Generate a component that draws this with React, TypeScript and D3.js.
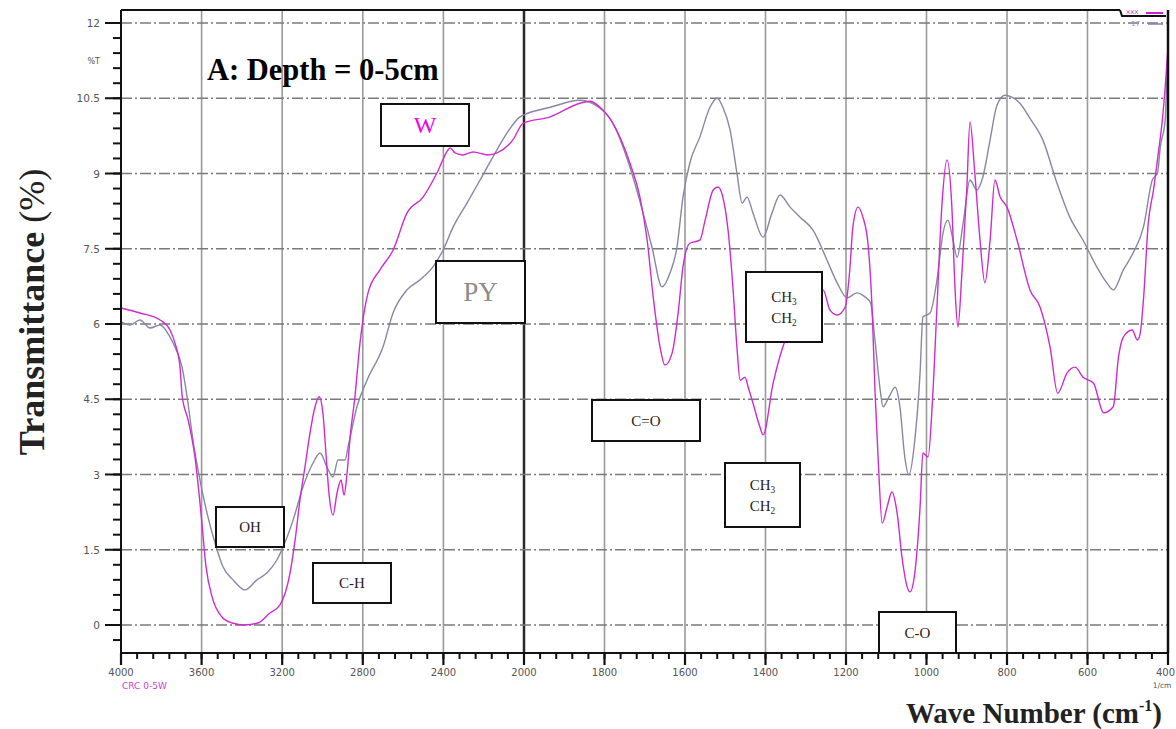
import React from "react";
import * as d3 from "d3";

// ---- Data (wavenumber cm-1, transmittance %T) ----
const wSeriesWn = [4000,3906,3806,3757,3732,3707,3697,3667,3633,3603,3578,3548,3499,3449,3385,3320,3261,3211,3161,3136,3112,3087,3062,3037,3017,2998,2983,2968,2948,2928,2908,2893,2878,2863,2839,2814,2794,2774,2715,2650,2581,2501,2432,2377,2367,2342,2303,2253,2179,2134,2055,2005,1935,1861,1836,1811,1779,1737,1712,1694,1679,1662,1650,1632,1617,1605,1588,1563,1550,1530,1518,1506,1493,1481,1471,1463,1451,1443,1431,1414,1406,1381,1357,1327,1289,1257,1240,1222,1202,1190,1183,1170,1158,1145,1135,1128,1120,1110,1098,1086,1073,1061,1048,1041,1029,1016,1009,996,986,974,962,949,937,929,922,912,900,892,880,867,855,842,830,817,800,775,743,718,693,674,651,631,611,585,560,536,523,511,489,476,469,461,449,436,424,414,407,400];
const wSeriesT = [6.32,6.22,6.08,5.88,5.62,5.14,4.58,4.09,3.35,2.23,1.16,0.56,0.16,0.04,0.0,0.04,0.24,0.40,1.04,1.69,2.49,3.15,3.83,4.35,4.55,4.23,3.43,2.63,2.19,2.63,2.89,2.59,3.03,3.75,4.55,5.62,6.22,6.62,7.08,7.47,8.21,8.53,9.01,9.47,9.51,9.41,9.37,9.43,9.37,9.41,9.67,10.0,10.13,10.40,10.44,10.32,10.0,9.21,8.53,7.67,6.54,5.54,5.18,5.42,6.22,7.14,7.61,7.67,8.07,8.67,8.73,8.53,7.87,6.74,5.54,4.88,4.94,4.74,4.42,3.95,3.79,4.82,5.54,6.08,6.48,6.68,6.28,6.18,6.34,7.14,7.93,8.33,8.13,7.57,6.28,4.68,3.29,2.03,2.35,2.65,2.23,1.36,0.76,0.66,1.04,2.35,3.43,3.35,4.35,6.34,8.33,9.27,8.33,6.68,5.94,7.02,8.67,10.03,9.01,7.67,6.82,7.67,8.87,8.53,8.33,7.67,6.68,6.34,5.54,4.62,5.02,5.14,4.94,4.82,4.23,4.35,5.34,5.74,5.88,5.68,5.82,6.48,8.01,8.67,9.41,10.07,10.72,11.5];

const pySeriesWn = [4000,3955,3906,3856,3806,3757,3732,3697,3672,3643,3608,3573,3533,3494,3444,3385,3325,3275,3226,3196,3146,3097,3047,3012,2978,2948,2923,2888,2873,2829,2779,2700,2650,2581,2516,2452,2402,2352,2283,2218,2154,2084,2020,2000,1935,1861,1811,1779,1737,1704,1682,1657,1637,1620,1605,1588,1563,1538,1520,1506,1488,1471,1458,1446,1431,1406,1384,1364,1339,1314,1282,1247,1222,1197,1173,1153,1139,1128,1115,1108,1093,1078,1066,1054,1044,1029,1016,1009,991,974,959,947,934,924,909,892,875,860,842,825,805,788,768,743,711,676,644,611,577,552,536,511,487,461,439,426,419,407,402,400];
const pySeriesT = [6.04,5.98,6.08,5.92,5.98,5.74,5.54,5.14,4.55,3.69,2.89,2.23,1.63,1.16,0.90,0.70,0.90,1.04,1.30,1.55,2.09,2.75,3.23,3.43,3.15,2.95,3.29,3.29,3.55,4.35,4.88,5.54,6.22,6.68,6.88,7.14,7.47,7.93,8.41,8.87,9.33,9.81,10.13,10.17,10.32,10.46,10.30,10.0,9.13,8.21,7.53,6.74,7.02,7.53,8.53,9.21,9.73,10.32,10.50,10.32,9.87,9.01,8.41,8.53,8.21,7.73,8.21,8.57,8.33,8.13,7.87,7.27,6.82,6.52,6.62,6.54,6.42,5.68,4.68,4.35,4.55,4.74,4.35,3.35,2.99,3.69,5.02,6.14,6.22,6.88,7.81,8.07,7.67,7.33,8.01,8.87,8.67,8.93,9.67,10.36,10.56,10.52,10.40,10.10,9.67,8.81,8.13,7.67,7.14,6.82,6.68,7.08,7.41,7.93,8.87,9.01,9.53,10.07,11.06,11.26];

const xTickLabels = [4000,3600,3200,2800,2400,2000,1800,1600,1400,1200,1000,800,600,400];
const yTickLabels = [0,1.5,3,4.5,6,7.5,9,10.5,12];

// ---- Layout ----
const W = 1176, H = 729;
const L = 121, R = 1168, TOP = 10, BOT = 653;

const x = d3.scaleLinear().domain([4000, 2000, 400]).range([L, 524, R]);
const y = d3.scaleLinear().domain([0, 12]).range([625, 23]);

const MAG = "#cf2ccf";
const GRY = "#8787a6";
const SERIF = "'Liberation Serif', 'Times New Roman', serif";
const SANS = "'DejaVu Sans', Arial, sans-serif";

type Box = { x0: number; y0: number; x1: number; y1: number; lines: string[]; color?: string; size?: number };
const boxes: Box[] = [
  { x0: 381, y0: 104, x1: 469, y1: 146, lines: ["W"], color: "#f000f0", size: 24 },
  { x0: 436, y0: 261, x1: 525, y1: 323, lines: ["PY"], color: "#8c8c8c", size: 27 },
  { x0: 216, y0: 507, x1: 284, y1: 547, lines: ["OH"] },
  { x0: 313, y0: 563, x1: 391, y1: 603, lines: ["C-H"] },
  { x0: 592, y0: 400, x1: 700, y1: 441, lines: ["C=O"] },
  { x0: 746, y0: 272, x1: 822, y1: 342, lines: ["CH3", "CH2"] },
  { x0: 725, y0: 463, x1: 800, y1: 527, lines: ["CH3", "CH2"] },
  { x0: 879, y0: 612, x1: 956, y1: 653, lines: ["C-O"] },
];

function renderLabel(s: string, size: number) {
  const m = s.match(/^(CH)(\d)$/);
  if (m) {
    return (
      <>
        {m[1]}
        <tspan fontSize={size * 0.62} dy={3}>{m[2]}</tspan>
      </>
    );
  }
  return s;
}

export default function App() {
  const line = d3
    .line<[number, number]>()
    .x((d) => x(d[0]))
    .y((d) => y(d[1]))
    .curve(d3.curveMonotoneX);

  const wData: [number, number][] = wSeriesWn.map((v, i) => [v, wSeriesT[i]]);
  const pyData: [number, number][] = pySeriesWn.map((v, i) => [v, pySeriesT[i]]);

  const xMinor: number[] = [];
  for (let v = 4000; v > 2000; v -= 80) xMinor.push(v);
  for (let v = 2000; v >= 400; v -= 40) xMinor.push(v);
  const yMinor: number[] = [];
  for (let v = -0.3; v <= 12.25; v += 0.3) yMinor.push(Math.round(v * 10) / 10);

  return (
    <svg width={W} height={H} style={{ position: "absolute", left: 0, top: 0, background: "#fff" }}>
      <rect x={0} y={0} width={W} height={H} fill="#fff" />
      {/* vertical grid */}
      {xTickLabels.filter((v) => v !== 4000 && v !== 400).map((v) => (
        <line key={"vg" + v} x1={x(v)} x2={x(v)} y1={TOP} y2={BOT}
          stroke={v === 2000 ? "#2a2a2a" : "#9a9a9a"} strokeWidth={v === 2000 ? 2.5 : 1.6} />
      ))}
      {/* horizontal dashed grid */}
      {yTickLabels.map((v) => (
        <line key={"hg" + v} x1={L} x2={R} y1={y(v)} y2={y(v)} stroke="#7a7a7a"
          strokeWidth={1.6} strokeDasharray="11 3 2 3" />
      ))}
      {/* curves */}
      <path d={line(pyData) || ""} fill="none" stroke={GRY} strokeWidth={1.4} />
      <path d={line(wData) || ""} fill="none" stroke={MAG} strokeWidth={1.4} />

      {/* frame */}
      <line x1={L} x2={1120} y1={TOP} y2={TOP} stroke="#111" strokeWidth={2} />
      <polyline points={`1120,${TOP} 1122,16 1166,16`} fill="none" stroke="#111" strokeWidth={2} />
      <line x1={L} x2={L} y1={TOP} y2={BOT} stroke="#111" strokeWidth={2} />
      <line x1={L} x2={R} y1={BOT} y2={BOT} stroke="#111" strokeWidth={2} />
      <line x1={R} x2={R} y1={TOP} y2={BOT} stroke="#111" strokeWidth={2.5} />
      {/* mini legend */}
      <text x={1126} y={14} fontSize={7} fill="#d040d0" fontFamily={SANS}>xxx</text>
      <line x1={1146} x2={1163} y1={13} y2={13} stroke="#d020d0" strokeWidth={2} />
      <text x={1131} y={26} fontSize={7} fill="#9090c0" fontFamily={SANS}>17</text>
      <line x1={1148} x2={1163} y1={24} y2={24} stroke="#8080b0" strokeWidth={1.5} />

      {/* y ticks */}
      {yMinor.map((v) => (
        <line key={"ym" + v} x1={L - 8} x2={L} y1={y(v)} y2={y(v)} stroke="#111" strokeWidth={2} />
      ))}
      {yTickLabels.map((v) => (
        <g key={"yt" + v}>
          <line x1={L - 16} x2={L} y1={y(v)} y2={y(v)} stroke="#111" strokeWidth={2} />
          <text x={100} y={y(v) + 4} textAnchor="end" fontSize={10.5} fill="#555" fontFamily={SANS}>{v}</text>
        </g>
      ))}
      <text x={100} y={y(11.25) + 3} textAnchor="end" fontSize={8} fill="#555" fontFamily={SANS}>%T</text>

      {/* x ticks */}
      {xMinor.map((v) => (
        <line key={"xm" + v} x1={x(v)} x2={x(v)} y1={BOT} y2={BOT + 6} stroke="#111" strokeWidth={2} />
      ))}
      {xTickLabels.map((v) => (
        <g key={"xt" + v}>
          <line x1={x(v)} x2={x(v)} y1={BOT} y2={BOT + 12} stroke="#111" strokeWidth={2.2} />
          <text x={v === 400 ? 1175 : x(v)} y={676} textAnchor={v === 400 ? "end" : "middle"}
            fontSize={10} fill="#555" fontFamily={SANS}>{v}</text>
        </g>
      ))}
      <text x={122} y={689} fontSize={9} fill="#d040d0" fontFamily={SANS}>CRC 0-5W</text>
      <text x={1162} y={688} textAnchor="middle" fontSize={7.5} fill="#555" fontFamily={SANS}>1/cm</text>

      {/* annotation boxes */}
      {boxes.map((b, i) => {
        const size = b.size ?? 15;
        const cx = (b.x0 + b.x1) / 2;
        const cy = (b.y0 + b.y1) / 2;
        const n = b.lines.length;
        const lh = 21;
        return (
          <g key={"b" + i}>
            <rect x={b.x0} y={b.y0} width={b.x1 - b.x0} height={b.y1 - b.y0} fill="#fff" stroke="#111" strokeWidth={2} />
            {b.lines.map((s, j) => (
              <text key={j} x={cx} y={cy + (j - (n - 1) / 2) * lh + size * 0.34}
                textAnchor="middle" fontSize={size} fill={b.color ?? "#2b2118"} fontFamily={SERIF}>
                {renderLabel(s, size)}
              </text>
            ))}
          </g>
        );
      })}

      {/* title & axis labels */}
      <text x={207} y={80} fontSize={30.5} fontWeight="bold" fill="#000" fontFamily={SERIF}>A: Depth = 0-5cm</text>
      <text transform="translate(44,312) rotate(-90)" textAnchor="middle" fontSize={36} fill="#222" fontFamily={SERIF}>
        <tspan fontWeight="bold">Transmittance</tspan>
        <tspan> (%)</tspan>
      </text>
      <text x={1162} y={723} textAnchor="end" fontSize={29} fontWeight="bold" fill="#222" fontFamily={SERIF}>
        Wave Number (cm<tspan fontSize={16} dy={-12}>-1</tspan><tspan dy={12}>)</tspan>
      </text>
    </svg>
  );
}
